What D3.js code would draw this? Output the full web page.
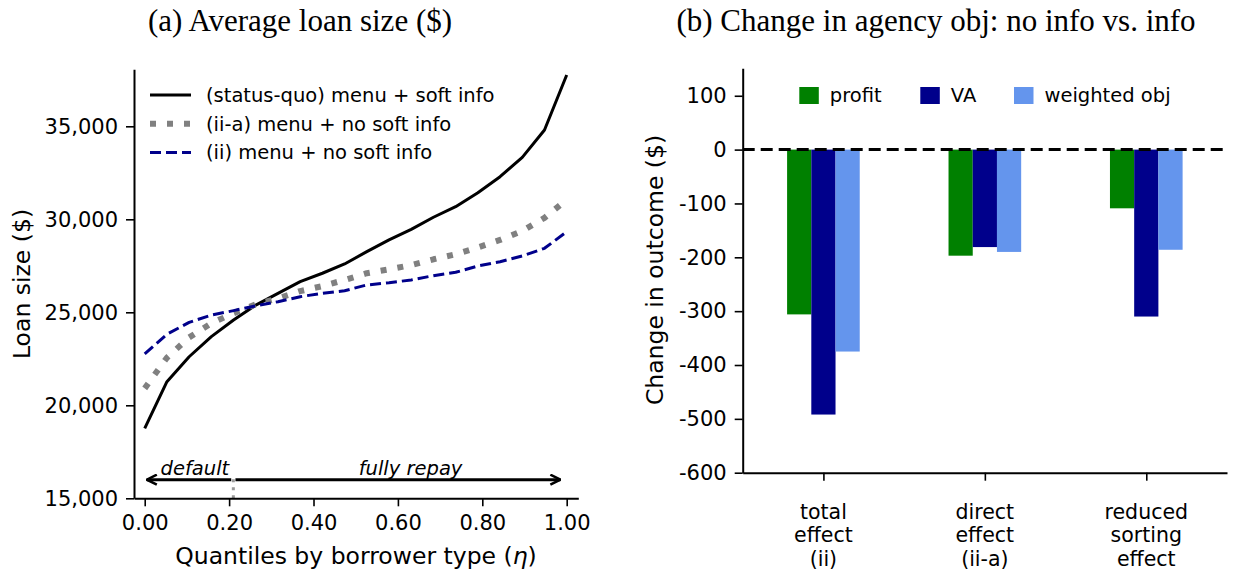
<!DOCTYPE html>
<html>
<head>
<meta charset="utf-8">
<title>Loan size and agency objective</title>
<script src="https://d3js.org/d3.v7.min.js"></script>
<style>
	body { margin: 0; background: #fff; }
	svg { display: block; }
	text { font-family: "DejaVu Sans", sans-serif; fill: #000; }
	.title { font-family: "Liberation Serif", "Times New Roman", serif; font-size: 31px; }
	.axis path, .axis line { stroke: #000; }
	.axis path { stroke-width: 2; }
	.axis line { stroke-width: 1.6; }
	.axis text { font-family: "DejaVu Sans", sans-serif; font-size: 21px; }
</style>
</head>
<body>
<svg id="chart" width="1237" height="573"></svg>
<script>
// ---- panel (a): average loan size by quantile ----
var quantiles = d3.range(20).map(function(i) { return i / 19; });
var statusQuo   = [18760, 21270, 22610, 23690, 24590, 25390, 26020, 26650, 27100, 27600,
                   28260, 28890, 29460, 30110, 30680, 31430, 32290, 33330, 34800, 37760];
var menuNoSoftA = [20910, 22560, 23650, 24410, 24950, 25430, 25750, 26140, 26410, 26740,
                   27100, 27310, 27540, 27850, 28120, 28490, 28890, 29370, 30080, 31050];
var menuNoSoft  = [22760, 23820, 24460, 24850, 25090, 25350, 25570, 25840, 26020, 26160,
                   26470, 26590, 26740, 26970, 27150, 27490, 27720, 28030, 28440, 29330];
var lineNames = ["(status-quo) menu + soft info", "(ii-a) menu + no soft info", "(ii) menu + no soft info"];
var xTicksA = [0, 0.2, 0.4, 0.6, 0.8, 1.0];
var yTicksA = [15000, 20000, 25000, 30000, 35000];
var cutoff = 0.21;

// ---- panel (b): change in agency objective ----
var barGroups = [["total", "effect", "(ii)"], ["direct", "effect", "(ii-a)"], ["reduced", "sorting", "effect"]];
var barSeries = ["profit", "VA", "weighted obj"];
var profitChange   = [-306, -197, -109];
var vaChange       = [-492, -181, -310];
var weightedChange = [-375, -190, -186];
var yTicksB = [100, 0, -100, -200, -300, -400, -500, -600];

var svg = d3.select("#chart");
svg.append("rect").attr("width", 1237).attr("height", 573).attr("fill", "#fff");

// ================= panel (a) =================
var xA = d3.scaleLinear().domain([-0.0254, 1.0275]).range([134, 578.3]);
var yA = d3.scaleLinear().domain([15000, 38065]).range([498.3, 69.3]);

svg.append("text").attr("class", "title")
	.attr("x", 300).attr("y", 31).attr("text-anchor", "middle")
	.text("(a) Average loan size ($)");

var series = [
	{ name: lineNames[0], values: statusQuo,   color: "#000",    width: 3,   dash: null },
	{ name: lineNames[1], values: menuNoSoftA, color: "#808080", width: 6,   dash: "6,11" },
	{ name: lineNames[2], values: menuNoSoft,  color: "#00008b", width: 3,   dash: "11,5" }
];

var line = d3.line()
	.x(function(d, i) { return xA(quantiles[i]); })
	.y(function(d) { return yA(d); });

// cutoff marker and arrows
svg.append("line")
	.attr("x1", xA(cutoff)).attr("x2", xA(cutoff))
	.attr("y1", yA(15000)).attr("y2", yA(16050))
	.attr("stroke", "#999").attr("stroke-width", 3).attr("stroke-dasharray", "3,5");

var defs = svg.append("defs");
defs.append("marker").attr("id", "head")
	.attr("viewBox", "0 0 12 12").attr("refX", 11).attr("refY", 6)
	.attr("markerWidth", 12).attr("markerHeight", 12).attr("markerUnits", "userSpaceOnUse")
	.attr("orient", "auto")
	.append("path").attr("d", "M1,1 L11,6 L1,11")
	.attr("fill", "none").attr("stroke", "#000").attr("stroke-width", 2.6);

var arrowY = yA(16000);
svg.append("line")
	.attr("x1", xA(cutoff - 0.005)).attr("x2", xA(0.005))
	.attr("y1", arrowY).attr("y2", arrowY)
	.attr("stroke", "#000").attr("stroke-width", 3).attr("marker-end", "url(#head)");
svg.append("line")
	.attr("x1", xA(cutoff + 0.005)).attr("x2", xA(0.985))
	.attr("y1", arrowY).attr("y2", arrowY)
	.attr("stroke", "#000").attr("stroke-width", 3).attr("marker-end", "url(#head)");
svg.append("text").attr("x", xA(0.119)).attr("y", arrowY - 5)
	.attr("text-anchor", "middle").attr("font-style", "italic").attr("font-size", 19.5)
	.text("default");
svg.append("text").attr("x", xA(0.63)).attr("y", arrowY - 5)
	.attr("text-anchor", "middle").attr("font-style", "italic").attr("font-size", 19.5)
	.text("fully repay");

svg.append("g").selectAll("path")
	.data(series)
	.enter().append("path")
		.attr("d", function(d) { return line(d.values); })
		.attr("fill", "none")
		.attr("stroke", function(d) { return d.color; })
		.attr("stroke-width", function(d) { return d.width; })
		.attr("stroke-dasharray", function(d) { return d.dash; })
		.attr("stroke-linejoin", "round");

svg.append("g").attr("class", "axis")
	.attr("transform", "translate(0," + yA(15000) + ")")
	.call(d3.axisBottom(xA).tickValues(xTicksA).tickFormat(d3.format(".2f"))
		.tickSize(8).tickSizeOuter(0).tickPadding(9));
svg.append("g").attr("class", "axis")
	.attr("transform", "translate(" + xA.range()[0] + ",0)")
	.call(d3.axisLeft(yA).tickValues(yTicksA).tickFormat(d3.format(","))
		.tickSize(8).tickSizeOuter(0).tickPadding(8));

svg.append("text").attr("x", 356).attr("y", 564).attr("text-anchor", "middle")
	.attr("font-size", 23.5).text("Quantiles by borrower type (")
	.append("tspan").attr("font-style", "italic").text("η")
	.select(function() { return this.parentNode; })
	.append("tspan").text(")");
svg.append("text")
	.attr("transform", "translate(30,284) rotate(-90)")
	.attr("text-anchor", "middle").attr("font-size", 23.5)
	.text("Loan size ($)");

// legend (a)
var legA = svg.append("g").selectAll("g")
	.data(series)
	.enter().append("g")
		.attr("transform", function(d, i) { return "translate(150," + (95 + i * 28.8) + ")"; });
legA.append("line")
	.attr("x1", 0).attr("x2", 41)
	.attr("stroke", function(d) { return d.color; })
	.attr("stroke-width", function(d) { return d.width; })
	.attr("stroke-dasharray", function(d) { return d.dash; });
legA.append("text")
	.attr("x", 56).attr("dy", "0.35em").attr("font-size", 19.5)
	.text(function(d) { return d.name; });

// ================= panel (b) =================
var xB = d3.scaleLinear().domain([-0.5, 2.5]).range([742.7, 1227]);
var yB = d3.scaleLinear().domain([-600, 151]).range([472.7, 68.3]);
var barColors = ["#008000", "#00008b", "#6495ed"];
var barValues = [profitChange, vaChange, weightedChange];
var barWidth = 0.15;

svg.append("text").attr("class", "title")
	.attr("x", 936).attr("y", 31).attr("text-anchor", "middle")
	.text("(b) Change in agency obj: no info vs. info");

barSeries.forEach(function(name, s) {
	svg.append("g").selectAll("rect")
		.data(barValues[s])
		.enter().append("rect")
			.attr("x", function(d, i) { return xB(i + (s - 1) * barWidth - barWidth / 2); })
			.attr("width", xB(barWidth) - xB(0))
			.attr("y", yB(0))
			.attr("height", function(d) { return yB(d) - yB(0); })
			.attr("fill", barColors[s]);
});

svg.append("line")
	.attr("x1", xB.range()[0]).attr("x2", xB.range()[1])
	.attr("y1", yB(0)).attr("y2", yB(0))
	.attr("stroke", "#000").attr("stroke-width", 3).attr("stroke-dasharray", "12,6");

svg.append("g").attr("class", "axis")
	.attr("transform", "translate(0," + yB(-600) + ")")
	.call(d3.axisBottom(xB).tickValues([0, 1, 2]).tickFormat("")
		.tickSize(8).tickSizeOuter(0));
svg.append("g").attr("class", "axis")
	.attr("transform", "translate(" + xB.range()[0] + ",0)")
	.call(d3.axisLeft(yB).tickValues(yTicksB).tickFormat(function(d) { return String(d); })
		.tickSize(8).tickSizeOuter(0).tickPadding(8));

var catLabels = svg.append("g").selectAll("text")
	.data(barGroups)
	.enter().append("text")
		.attr("text-anchor", "middle").attr("font-size", 20.5)
		.attr("x", function(d, i) { return xB(i); })
		.attr("y", 519);
catLabels.selectAll("tspan")
	.data(function(d) { return d; })
	.enter().append("tspan")
		.attr("x", function() { return d3.select(this.parentNode).attr("x"); })
		.attr("dy", function(d, i) { return i === 0 ? 0 : 23.3; })
		.text(function(d) { return d; });

svg.append("text")
	.attr("transform", "translate(663,270) rotate(-90)")
	.attr("text-anchor", "middle").attr("font-size", 23.5)
	.text("Change in outcome ($)");

// legend (b)
var legBx = [799.3, 920.3, 1014];
var legB = svg.append("g").selectAll("g")
	.data(barSeries)
	.enter().append("g")
		.attr("transform", function(d, i) { return "translate(" + legBx[i] + ",95.5)"; });
legB.append("rect")
	.attr("x", 0).attr("y", -8.5).attr("width", 19.5).attr("height", 17)
	.attr("fill", function(d, i) { return barColors[i]; });
legB.append("text")
	.attr("x", 30.5).attr("dy", "0.35em").attr("font-size", 19.5)
	.text(function(d) { return d; });
</script>
</body>
</html>
